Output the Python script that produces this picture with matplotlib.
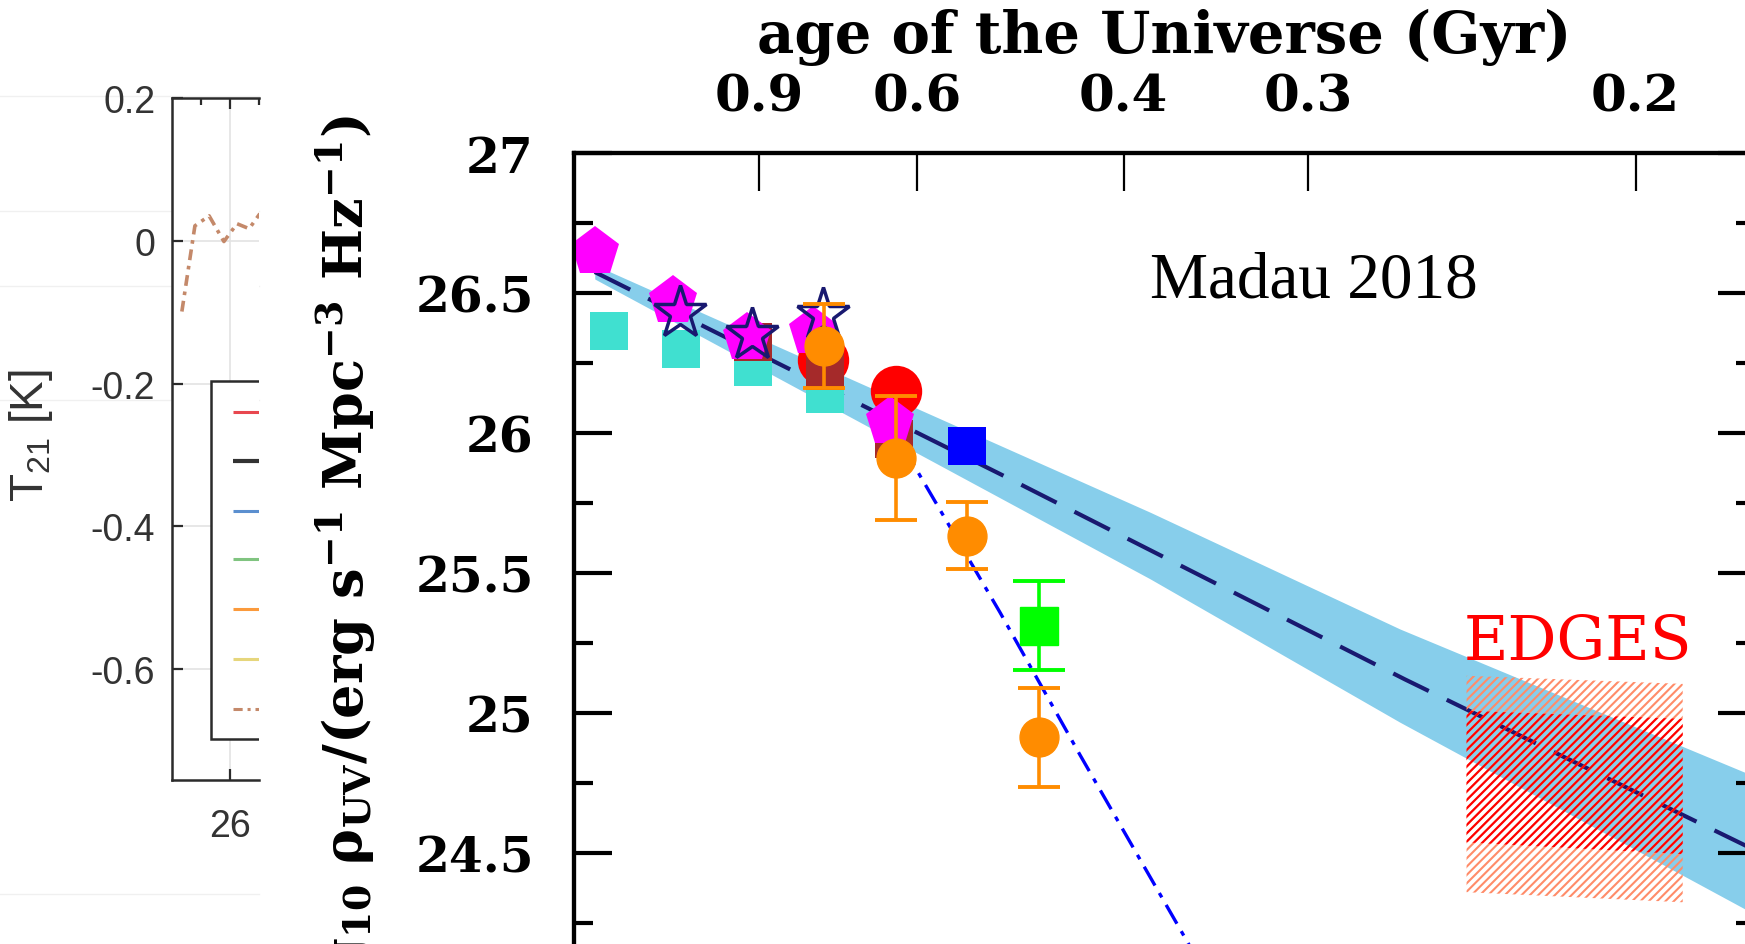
import numpy as np
import matplotlib.pyplot as plt
from matplotlib.patches import Polygon, Rectangle
from matplotlib.lines import Line2D
from matplotlib.ticker import FixedLocator, MultipleLocator, NullLocator

plt.rcParams['font.family'] = ['DejaVu Serif']
plt.rcParams['font.weight'] = 'bold'
plt.rcParams['axes.labelweight'] = 'bold'
plt.rcParams['axes.unicode_minus'] = False
plt.rcParams['mathtext.fontset'] = 'dejavuserif'
plt.rcParams['mathtext.default'] = 'regular'
plt.rcParams['hatch.linewidth'] = 1.5

# ---------- left panel: 21-cm brightness temperature ----------
t21_x = [24.34, 24.79, 25.28, 25.79, 26.24, 26.66, 27.03]
t21_T = [-0.099, 0.021, 0.035, -0.001, 0.024, 0.017, 0.038]
t21_yticks = [0.2, 0, -0.2, -0.4, -0.6]
t21_ylabels = ['0.2', '0', '-0.2', '-0.4', '-0.6']
t21_xticks = [26]
t21_xlabels = ['26']
legend_colors = ['#e8474f', '#333333', '#5b8fcf', '#80c480', '#fb9a3c', '#e6d67c', '#c4896a']
legend_widths = [2.2, 3.0, 2.2, 2.2, 2.2, 2.2, 2.2]
legend_rows = [-0.239, -0.309, -0.379, -0.446, -0.516, -0.585, -0.655]

# ---------- right panel: UV luminosity density vs redshift ----------
fit_z = [3.79, 9.48, 15.11, 20.0]
fit_v = [26.575, 25.85, 25.12, 24.51]
band_z = [3.79, 11.55, 15.04, 19.86, 20.0]
band_hi = [26.60, 25.717, 25.30, 24.788, 24.775]
band_lo = [26.55, 25.479, 24.967, 24.30, 24.28]
drop_z = [8.1, 9.45, 10.57, 12.3]
drop_v = [25.95, 25.36, 24.85, 24.08]

pent_z = [3.79, 4.88, 5.92, 6.84, 7.92]
pent_v = [26.646, 26.47, 26.34, 26.36, 26.04]
star_z = [4.98, 5.99, 6.98]
star_v = [26.43, 26.35, 26.42]
turq_z = [3.99, 4.99, 6.0, 7.01]
turq_v = [26.366, 26.30, 26.235, 26.14]
brown_z = [6.0, 7.01, 7.97]
brown_v = [26.325, 26.22, 25.98]
red_z = [6.98, 8.0]
red_v = [26.26, 26.15]
blue_z = [8.99]
blue_v = [25.953]
orange_z = [6.99, 8.0, 8.99, 9.99]
orange_v = [26.312, 25.911, 25.633, 24.913]
orange_err = [0.15, 0.22, 0.12, 0.178]
green_z = [9.99]
green_v = [25.312]
green_err = [0.16]

edges_z = [15.97, 18.99, 18.99, 15.97]
edges_outer_v = [25.133, 25.104, 24.324, 24.36]
edges_inner_v = [25.008, 24.979, 24.496, 24.538]

y_ticks = [24.5, 25, 25.5, 26, 26.5, 27]
age_ticks = [0.9, 0.6, 0.4, 0.3, 0.2]

# flat LCDM, h=0.7, Om=0.3: cosmic age (Gyr) -> redshift
H0, Om, OL = 70.0, 0.3, 0.7
t_hubble = 977.8 / H0


def age_to_z(t):
    x = np.sinh(1.5 * np.sqrt(OL) * np.asarray(t) / t_hubble) / np.sqrt(OL / Om)
    return x ** (-2.0 / 3.0) - 1.0


W, H = 1745, 945
fig = plt.figure(figsize=(W / 100, H / 100), dpi=100)

# faint rules behind the left panel
for yy in [97, 212, 287, 401, 895]:
    fig.add_artist(Line2D([0, 259 / W], [1 - yy / H, 1 - yy / H], transform=fig.transFigure,
                          color='#f0f0f0', lw=1, zorder=-1))

axL = fig.add_axes([172 / W, (H - 781) / H, 87 / W, 682 / H])
axL.plot(t21_x, t21_T, color='#c4896a', lw=2.6, ls=(0, (3, 1.6, 1, 1.6)), zorder=3)
axL.set_xlim(24, 27)
axL.set_ylim(-0.755, 0.2)
axL.yaxis.set_major_locator(FixedLocator(t21_yticks))
axL.set_yticklabels(t21_ylabels)
axL.xaxis.set_major_locator(FixedLocator(t21_xticks))
axL.set_xticklabels(t21_xlabels)
axL.xaxis.set_minor_locator(FixedLocator([25, 27]))
axL.grid(True, which='major', color='#e3e3e3', lw=1.2)
axL.set_axisbelow(True)
axL.spines['right'].set_visible(False)
for s in ['left', 'top', 'bottom']:
    axL.spines[s].set_color('#2b2b2b')
    axL.spines[s].set_linewidth(1.8)
axL.tick_params(which='major', direction='in', length=8, width=1.6, colors='#2b2b2b',
                labelsize=27, top=True, pad=12, labelcolor='#333333')
axL.tick_params(axis='x', pad=20)
axL.tick_params(axis='x', which='minor', direction='in', length=5, width=1.6,
                colors='#2b2b2b', top=True, bottom=False)
for lab in axL.get_xticklabels() + axL.get_yticklabels():
    lab.set_family('Liberation Sans')
    lab.set_weight('normal')

# legend box (cut by the neighbouring panel)
axL.add_patch(Rectangle((25.34, -0.698), 2.0, 0.502, facecolor='white', edgecolor='#2b2b2b',
                        lw=1.8, zorder=4))
for c, lw, r in zip(legend_colors, legend_widths, legend_rows):
    ls = (0, (3, 1.6, 1, 1.6)) if c == '#c4896a' else '-'
    axL.plot([26.10, 27.5], [r, r], color=c, lw=lw, ls=ls, zorder=5, solid_capstyle='butt')

fig.text(31 / W, 1 - 436 / H, r'T$_{21}$ [K]', rotation=90, ha='center', va='center',
         fontsize=33, family='Liberation Sans', weight='normal', color='#333333')

# ---------- main panel ----------
ax = fig.add_axes([574 / W, (H - 994) / H, 1181 / W, 840 / H])
ax.set_xlim(3.5, 20)
ax.set_ylim(24, 27)

ax.fill_between(band_z, band_lo, band_hi, color='#87ceeb', lw=0, zorder=1)
ax.plot(fit_z, fit_v, color='#191970', lw=3, ls=(0, (9.5, 4.8)), zorder=2)
ax.plot(drop_z, drop_v, color='#0000ff', lw=2.4, ls=(0, (6.5, 2.6, 1.5, 2.6)), zorder=2)

ax.add_patch(Polygon(list(zip(edges_z, edges_outer_v)), closed=True, facecolor='none',
                     edgecolor='#ff8c69', hatch='////', lw=0, zorder=3))
ax.add_patch(Polygon(list(zip(edges_z, edges_inner_v)), closed=True, facecolor='none',
                     edgecolor='#ff0000', hatch='////', lw=0, zorder=3))

ax.plot(turq_z, turq_v, 's', ms=28, color='#40e0d0', mew=0, zorder=4)
ax.plot(red_z, red_v, 'o', ms=37, color='#ff0000', mew=0, zorder=5)
ax.plot(brown_z, brown_v, 's', ms=28, color='#a52a2a', mew=0, zorder=6)
ax.plot(pent_z, pent_v, 'p', ms=37, color='#ff00ff', mew=0, zorder=7)
ax.plot(star_z, star_v, '*', ms=40, mfc='none', mec='#191970', mew=2.5, zorder=8)
ax.plot(blue_z, blue_v, 's', ms=28, color='#0000ff', mew=0, zorder=7)
ax.errorbar(green_z, green_v, yerr=green_err, fmt='s', ms=27, color='#00ff00',
            elinewidth=2.6, capsize=19, capthick=2.8, zorder=9)
ax.errorbar(orange_z, orange_v, yerr=orange_err, fmt='o', ms=28, color='#ff8c00',
            elinewidth=2.6, capsize=15, capthick=2.8, zorder=10)

ax.text(11.55, 26.486, 'Madau 2018', family='Liberation Serif', weight='normal',
        fontsize=47, ha='left', va='baseline')
ax.text(17.53, 25.193, 'EDGES', family='DejaVu Serif', weight='normal', color='#ff0000',
        fontsize=44, ha='center', va='baseline')

ax.yaxis.set_major_locator(FixedLocator(y_ticks))
ax.yaxis.set_minor_locator(MultipleLocator(0.25))
ax.yaxis.set_major_formatter(plt.FuncFormatter(lambda v, p: '%g' % v))
ax.xaxis.set_major_locator(MultipleLocator(5))
ax.xaxis.set_minor_locator(NullLocator())
ax.tick_params(axis='y', which='both', direction='in', left=True, right=True, width=3,
               labelsize=35, pad=29)
ax.tick_params(axis='y', which='major', length=27)
ax.tick_params(axis='y', which='minor', length=14)
ax.tick_params(axis='x', direction='in', top=False, labelbottom=False, length=27, width=3)
for s in ax.spines.values():
    s.set_linewidth(3)

ax.set_ylabel(r'log$_{10}$ $\rho_{UV}$/(erg s$^{-1}$ Mpc$^{-3}$ Hz$^{-1}$)', fontsize=39)
ax.yaxis.set_label_coords(-0.193, 0.5)
ax.yaxis.label.set_va('center')

ax_top = ax.twiny()
ax_top.set_xlim(3.5, 20)
ax_top.xaxis.set_major_locator(FixedLocator(age_to_z(age_ticks)))
ax_top.set_xticklabels(['%g' % a for a in age_ticks])
ax_top.xaxis.set_minor_locator(NullLocator())
ax_top.tick_params(axis='x', direction='in', length=27, width=1.6, labelsize=37, pad=23)
for s in ax_top.spines.values():
    s.set_linewidth(3)
ax_top.set_xlabel('age of the Universe (Gyr)', fontsize=41.5)
ax_top.xaxis.set_label_coords(0.5, (994 - 37) / 840)
ax_top.xaxis.label.set_va('center')

fig.savefig('out.png', dpi=100, facecolor='white')
